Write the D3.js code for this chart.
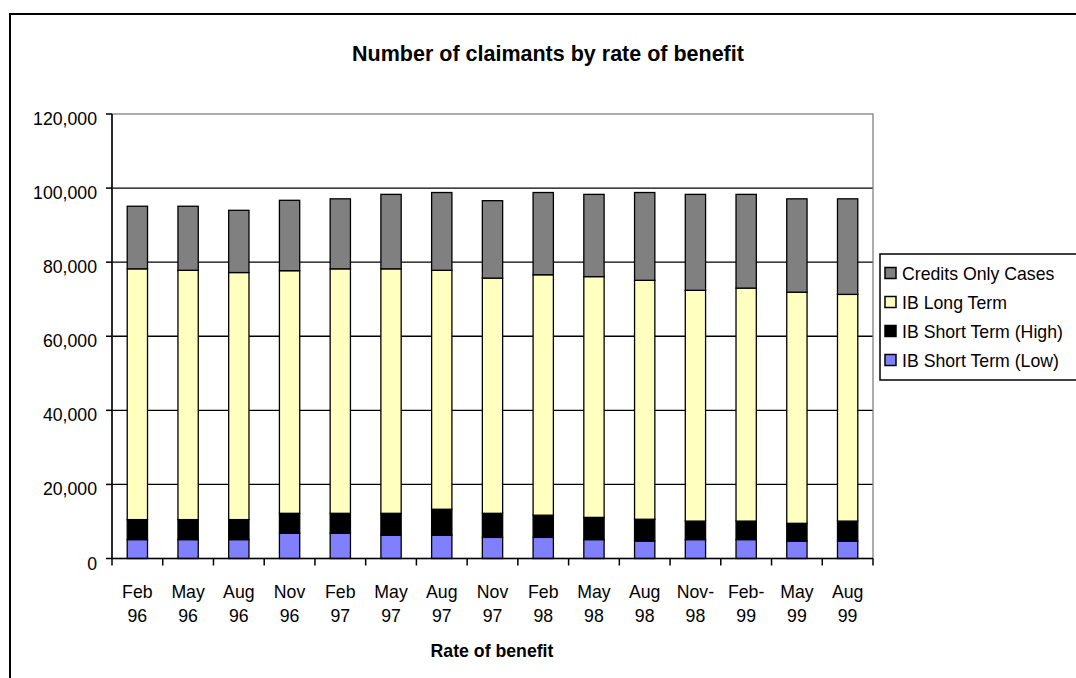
<!DOCTYPE html>
<html>
<head>
<meta charset="utf-8">
<script src="https://cdn.jsdelivr.net/npm/d3@7"></script>
<style>
  html, body { margin: 0; padding: 0; background: #fff; overflow: hidden; }
  svg { display: block; font-family: "Liberation Sans", Arial, sans-serif; }
</style>
</head>
<body>
<svg id="chart" width="1076" height="678"></svg>
<script>
// ---- Data ----
const categories = ["Feb 96","May 96","Aug 96","Nov 96","Feb 97","May 97","Aug 97","Nov 97","Feb 98","May 98","Aug 98","Nov-98","Feb-99","May 99","Aug 99"];
const seriesNames = ["IB Short Term (Low)","IB Short Term (High)","IB Long Term","Credits Only Cases"];
const shortLow  = [5100,5100,5100,6800,6800,6300,6300,5700,5700,5100,4700,5100,5100,4700,4700];
const shortHigh = [5400,5400,5400,5400,5400,5900,7000,6500,6000,6000,5900,5000,5000,4800,5400];
const longTerm  = [67700,67300,66700,65500,66000,66000,64500,63500,64900,65000,64500,62300,62900,62400,61200];
const credits   = [16900,17300,16800,19000,18900,20100,21000,20900,22200,22200,23700,25900,25300,25200,25800];
const yTicks = [0,20000,40000,60000,80000,100000,120000];
const colors = ["#8080FF","#000000","#FFFFC0","#808080"];

// ---- Layout ----
const svg = d3.select("#chart");
const plot = {left: 112, top: 114, right: 873, bottom: 558.5};
const F = 17.7;

// outer chart border
svg.append("rect").attr("x", 10).attr("y", 14).attr("width", 1100).attr("height", 700)
  .attr("fill", "#fff").attr("stroke", "#000").attr("stroke-width", 2);

const x = d3.scaleBand().domain(categories).range([plot.left, plot.right]).paddingInner(0.6).paddingOuter(0.3);
const xb = d3.scaleBand().domain(categories).range([plot.left, plot.right]);
const y = d3.scaleLinear().domain([0, 120000]).range([plot.bottom, plot.top]);

const table = categories.map((c, i) => ({cat: c, s0: shortLow[i], s1: shortHigh[i], s2: longTerm[i], s3: credits[i]}));
const stack = d3.stack().keys(["s0","s1","s2","s3"]);
const layers = stack(table);

// gridlines
svg.append("g").selectAll("line").data(yTicks.filter(t => t > 0 && t < 120000)).join("line")
  .attr("x1", plot.left).attr("x2", plot.right)
  .attr("y1", d => y(d)).attr("y2", d => y(d))
  .attr("stroke", "#000").attr("stroke-width", 1.3);

// plot area border (gray)
svg.append("rect").attr("x", plot.left).attr("y", plot.top)
  .attr("width", plot.right - plot.left).attr("height", plot.bottom - plot.top)
  .attr("fill", "none").attr("stroke", "#808080").attr("stroke-width", 1.3);

// bars
svg.append("g").selectAll("g").data(layers).join("g")
  .attr("fill", (d, i) => colors[i])
  .selectAll("rect").data(d => d).join("rect")
  .attr("x", d => x(d.data.cat))
  .attr("width", x.bandwidth())
  .attr("y", d => y(d[1]))
  .attr("height", d => y(d[0]) - y(d[1]))
  .attr("stroke", "#000").attr("stroke-width", 1.3);

// y axis
const yAxis = svg.append("g");
yAxis.append("line").attr("x1", plot.left).attr("x2", plot.left).attr("y1", plot.top).attr("y2", plot.bottom)
  .attr("stroke", "#000").attr("stroke-width", 1.5);
yAxis.selectAll("line.tick").data(yTicks).join("line").attr("class", "tick")
  .attr("x1", plot.left - 6).attr("x2", plot.left)
  .attr("y1", d => y(d)).attr("y2", d => y(d))
  .attr("stroke", "#000").attr("stroke-width", 1.5);
yAxis.selectAll("text").data(yTicks).join("text")
  .attr("x", 97).attr("y", d => y(d) + 11)
  .attr("text-anchor", "end").attr("font-size", F)
  .text(d => d3.format(",")(d));

// x axis
const xAxis = svg.append("g");
xAxis.append("line").attr("x1", plot.left).attr("x2", plot.right).attr("y1", plot.bottom).attr("y2", plot.bottom)
  .attr("stroke", "#000").attr("stroke-width", 1.5);
const bounds = categories.map(c => xb(c)).concat([plot.right]);
xAxis.selectAll("line.tick").data(bounds).join("line").attr("class", "tick")
  .attr("x1", d => d).attr("x2", d => d)
  .attr("y1", plot.bottom).attr("y2", plot.bottom + 7)
  .attr("stroke", "#000").attr("stroke-width", 1.5);
const splitLabel = s => s.includes(" ") ? s.split(" ") : [s.slice(0, s.indexOf("-") + 1), s.slice(s.indexOf("-") + 1)];
const lbl = xAxis.selectAll("text").data(categories).join("text")
  .attr("text-anchor", "middle").attr("font-size", F);
lbl.each(function(c) {
  const parts = splitLabel(c);
  const cx = xb(c) + xb.bandwidth() / 2;
  d3.select(this).selectAll("tspan").data(parts).join("tspan")
    .attr("x", cx).attr("y", (d, i) => 597.5 + i * 24).text(d => d);
});

// titles
svg.append("text").attr("x", 548).attr("y", 61).attr("text-anchor", "middle")
  .attr("font-size", 21.5).attr("font-weight", "bold")
  .text("Number of claimants by rate of benefit");
svg.append("text").attr("x", 492).attr("y", 657).attr("text-anchor", "middle")
  .attr("font-size", F).attr("font-weight", "bold")
  .text("Rate of benefit");

// legend
const lg = svg.append("g");
lg.append("rect").attr("x", 880).attr("y", 254).attr("width", 220).attr("height", 126)
  .attr("fill", "#fff").attr("stroke", "#000").attr("stroke-width", 1.5);
const legendOrder = [3, 2, 1, 0];
const rows = lg.selectAll("g").data(legendOrder).join("g")
  .attr("transform", (d, i) => `translate(0, ${273 + i * 29})`);
rows.append("rect").attr("x", 885).attr("y", -5.5).attr("width", 11).attr("height", 11)
  .attr("fill", d => colors[d]).attr("stroke", "#000").attr("stroke-width", 1.5);
rows.append("text").attr("x", 902).attr("y", 6.5).attr("font-size", F)
  .text(d => seriesNames[d]);
</script>
</body>
</html>
